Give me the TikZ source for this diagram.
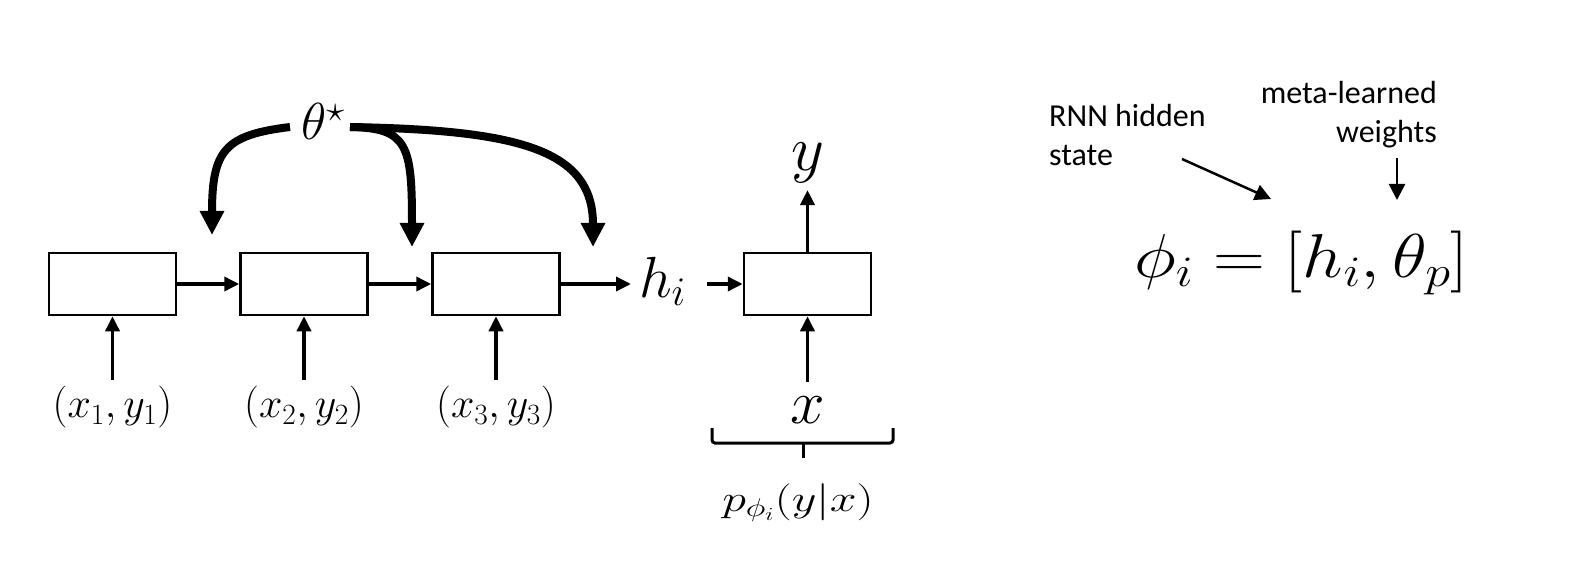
\RequirePackage{fix-cm}
\documentclass[tikz,border=0pt]{standalone}
\usepackage{fontspec}
\newfontfamily\carl{Carlito}
\usetikzlibrary{arrows.meta}
\begin{document}
\begin{tikzpicture}[x=1pt,y=-1pt,
  box/.style={draw,line width=2.5pt,minimum width=127pt,minimum height=62pt,inner sep=0pt},
  arr/.style={line width=3.5pt,-{Triangle[length=15pt,width=14pt]}},
  big/.style={line width=8pt,-{Triangle[length=24pt,width=23pt]}},
  thinarr/.style={line width=2.5pt,-{Triangle[length=16pt,width=16pt]}},
  lab/.style={inner sep=0pt,outer ysep=6.5pt,font=\fontsize{42}{50}\selectfont},
  sans/.style={inner sep=0pt,font=\carl\fontsize{32}{39}\selectfont}
]
\path[fill=white] (0,0) rectangle (1572,572);
% boxes
\node[box] (b1) at (112.5,284) {};
\node[box] (b2) at (304,284) {};
\node[box] (b3) at (496,284) {};
\node[box] (b4) at (807.5,284) {};
% input labels
\node[lab] (l1) at (112.5,407.5) {$(x_1,y_1)$};
\node[lab] (l2) at (304,407.5) {$(x_2,y_2)$};
\node[lab] (l3) at (496,407.5) {$(x_3,y_3)$};
\draw[arr] (l1.north) -- (b1.south);
\draw[arr] (l2.north) -- (b2.south);
\draw[arr] (l3.north) -- (b3.south);
% hidden state
\node[inner sep=0pt,outer xsep=8pt,anchor=base west,font=\fontsize{58}{64}\selectfont] (hi) at (631,297) {$h_i$};
\draw[arr] (b1.east) -- (b2.west);
\draw[arr] (b2.east) -- (b3.west);
\draw[arr] (b3.east) -- (b3.east -| hi.west);
\draw[arr] ([xshift=13pt]hi.east |- b4.west) -- (b4.west);
% output model
\node[inner sep=0pt,outer ysep=6.6pt,anchor=base,font=\fontsize{64}{70}\selectfont] (yl) at (807.5,171) {$y$};
\node[inner sep=0pt,outer ysep=14pt,anchor=base,font=\fontsize{62}{70}\selectfont] (xl) at (807.5,423) {$x$};
\draw[arr] (b4.north) -- (b4.north |- yl.south);
\draw[arr] (b4.south |- xl.north) -- (b4.south);
% brace
\draw[line width=3pt,rounded corners=3pt] (712,428) -- (712,443) -- (893,443) -- (893,428);
\draw[line width=3pt] (803,443) -- (803,458);
\node[inner sep=0pt,anchor=base,xscale=1.3,transform shape,font=\fontsize{37}{44}\selectfont] (pl) at (798,511) {$p_{\phi_i}(y|x)$};
% theta star
\node[inner sep=0pt,anchor=base west,font=\fontsize{52}{60}\selectfont] (th) at (301,140) {$\theta^\star$};
\coordinate (s1) at (290,127);
\coordinate (s2) at (350,127);
\coordinate (t1) at (212,235);
\coordinate (t2) at (412,247);
\coordinate (t3) at (593,247);
\draw[big] (s1) .. controls (225,135) and (212,150) .. (t1);
\draw[big] (s2) .. controls (408,128) and (412,145) .. (t2);
\draw[big] (s2) .. controls (520,130) and (593,150) .. (t3);
% right side
\node[inner sep=0pt,anchor=base west,xscale=1.16,transform shape,font=\fontsize{62}{70}\selectfont] (eq) at (1134,277) {$\phi_i = [h_i,\theta_p]$};
\node[sans,align=left,anchor=base west] (rnn) at (1049,166) {RNN hidden\\state};
\node[sans,align=right,anchor=base east] (meta) at (1437,143) {meta-learned\\weights};
\coordinate (a1) at (1182,159);
\coordinate (a2) at (1271,199);
\coordinate (a3) at (1397,158);
\coordinate (a4) at (1397,200);
\draw[thinarr] (a1) -- (a2);
\draw[thinarr] (a3) -- (a4);
\end{tikzpicture}
\end{document}
